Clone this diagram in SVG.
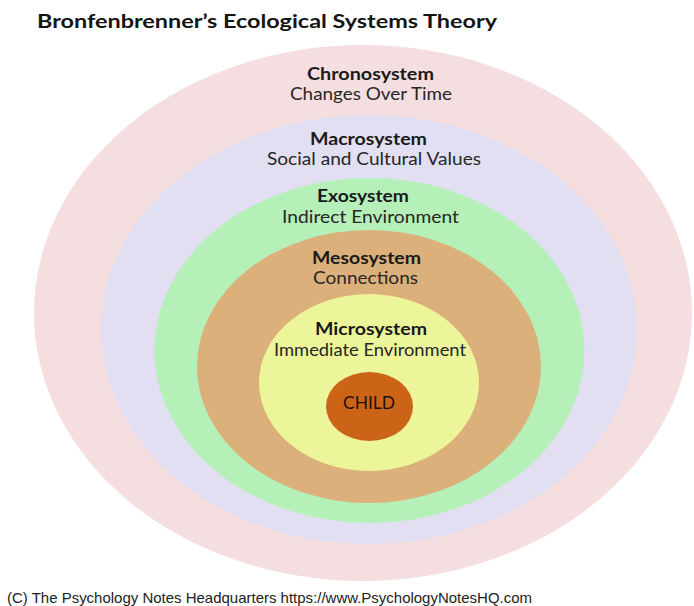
<svg xmlns="http://www.w3.org/2000/svg" width="694" height="606" viewBox="0 0 694 606">
  <style>
    .title { font-family: Lato, "Open Sans", "Liberation Sans", sans-serif; font-weight: 700; font-size: 19px; fill: #141414; }
    .name { font-family: Lato, "Open Sans", "Liberation Sans", sans-serif; font-weight: 700; font-size: 16.5px; fill: #1a1a1a; text-anchor: middle; }
    .desc { font-family: Lato, "Open Sans", "Liberation Sans", sans-serif; font-weight: 400; font-size: 16.5px; fill: #262626; text-anchor: middle; }
    .credit { font-family: "Liberation Sans", Arial, sans-serif; font-size: 14.5px; fill: #222222; }
  </style>

  <rect width="694" height="606" fill="#ffffff"/>

  <text class="title" x="37" y="28" textLength="460" lengthAdjust="spacingAndGlyphs">Bronfenbrenner’s Ecological Systems Theory</text>

  <!-- nested systems, outermost first -->
  <g id="chronosystem">
    <ellipse cx="363" cy="313" rx="329" ry="268" fill="#F5DEDF"/>
    <text class="name" x="370.5" y="80" textLength="127" lengthAdjust="spacingAndGlyphs">Chronosystem</text>
    <text class="desc" x="371" y="100" textLength="162" lengthAdjust="spacingAndGlyphs">Changes Over Time</text>
  </g>

  <g id="macrosystem">
    <ellipse cx="369" cy="329.5" rx="268" ry="214.5" fill="#E2DFF3"/>
    <text class="name" x="368.5" y="145" textLength="117" lengthAdjust="spacingAndGlyphs">Macrosystem</text>
    <text class="desc" x="374" y="165" textLength="214" lengthAdjust="spacingAndGlyphs">Social and Cultural Values</text>
  </g>

  <g id="exosystem">
    <ellipse cx="369.5" cy="350.5" rx="215" ry="172.5" fill="#B5F0B8"/>
    <text class="name" x="363" y="202" textLength="92" lengthAdjust="spacingAndGlyphs">Exosystem</text>
    <text class="desc" x="370.5" y="223" textLength="177" lengthAdjust="spacingAndGlyphs">Indirect Environment</text>
  </g>

  <g id="mesosystem">
    <ellipse cx="369" cy="366.5" rx="172" ry="136.5" fill="#DBB07A"/>
    <text class="name" x="366.5" y="264" textLength="109" lengthAdjust="spacingAndGlyphs">Mesosystem</text>
    <text class="desc" x="365.5" y="284" textLength="105" lengthAdjust="spacingAndGlyphs">Connections</text>
  </g>

  <g id="microsystem">
    <ellipse cx="369" cy="382.5" rx="110" ry="88.5" fill="#EDF59A"/>
    <text class="name" x="371" y="335" textLength="112" lengthAdjust="spacingAndGlyphs">Microsystem</text>
    <text class="desc" x="370" y="356" textLength="192" lengthAdjust="spacingAndGlyphs">Immediate Environment</text>
  </g>

  <g id="child">
    <ellipse cx="369.5" cy="406.5" rx="43.5" ry="34.5" fill="#CC6418"/>
    <text class="desc" x="369" y="409" textLength="52" lengthAdjust="spacingAndGlyphs" style="font-size:16.5px;fill:#1e1208">CHILD</text>
  </g>

  <text class="credit" x="7" y="603" textLength="525" lengthAdjust="spacingAndGlyphs">(C) The Psychology Notes Headquarters https://www.PsychologyNotesHQ.com</text>
</svg>
